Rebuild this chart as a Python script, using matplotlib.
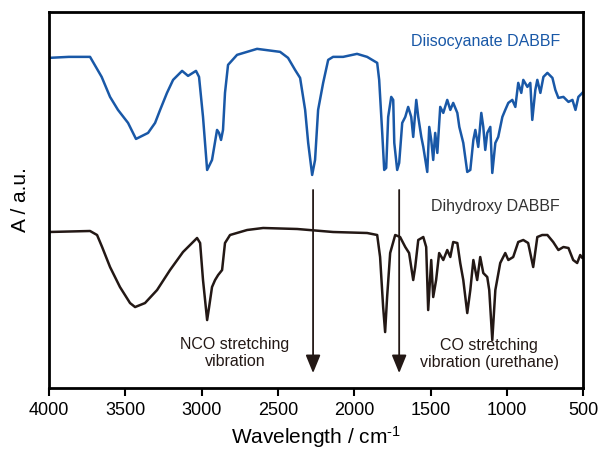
import matplotlib
matplotlib.use("Agg")
import matplotlib.pyplot as plt

plt.rcParams['font.family'] = ['Liberation Sans', 'DejaVu Sans']
plt.rcParams['mathtext.fontset'] = 'custom'
plt.rcParams['mathtext.rm'] = 'Liberation Sans'
plt.rcParams['mathtext.it'] = 'Liberation Sans'

# wavenumber (cm-1) and absorbance (a.u.)
wn_iso = [4000, 3870, 3731, 3655, 3600, 3548, 3482, 3430, 3351, 3305, 3272, 3227, 3187,
          3128, 3089, 3037, 3017, 2991, 2964, 2932, 2899, 2886, 2873, 2860, 2847, 2827,
          2768, 2637, 2486, 2434, 2388, 2355, 2322, 2302, 2276, 2257, 2237, 2204, 2171,
          2139, 2073, 1982, 1916, 1850, 1837, 1817, 1804, 1791, 1778, 1758, 1745, 1738,
          1719, 1706, 1686, 1666, 1647, 1627, 1614, 1594, 1581, 1561, 1548, 1522, 1509,
          1496, 1483, 1470, 1456, 1437, 1417, 1391, 1371, 1352, 1325, 1312, 1286, 1260,
          1240, 1220, 1207, 1188, 1168, 1155, 1142, 1129, 1109, 1096, 1076, 1057, 1030,
          1011, 991, 965, 945, 926, 906, 893, 866, 847, 834, 814, 801, 781, 761, 735,
          702, 683, 663, 630, 597, 571, 551, 532, 506, 500]
a_iso = [330, 331, 331, 311, 291, 278, 265, 249, 255, 265, 278, 295, 308,
         317, 312, 317, 311, 271, 218, 228, 258, 255, 248, 258, 295, 323,
         333, 339, 336, 330, 318, 310, 278, 245, 213, 228, 278, 305, 328,
         331, 331, 334, 331, 325, 308, 255, 218, 220, 271, 291, 288, 245,
         218, 225, 265, 271, 281, 271, 251, 288, 271, 251, 241, 216, 261,
         248, 228, 255, 235, 281, 275, 288, 278, 285, 275, 261, 245, 216,
         218, 248, 258, 241, 275, 261, 238, 255, 261, 215, 245, 251, 271,
         278, 285, 288, 281, 305, 295, 308, 301, 305, 268, 298, 308, 295, 311, 315,
         310, 298, 290, 291, 286, 288, 278, 291, 295, 296]

wn_oh = [4000, 3731, 3685, 3652, 3600, 3535, 3469, 3436, 3371, 3292, 3207, 3122, 3030,
         3010, 2991, 2964, 2951, 2932, 2912, 2892, 2866, 2847, 2814, 2702, 2597, 2374,
         2139, 1916, 1850, 1831, 1811, 1798, 1785, 1765, 1732, 1700, 1666, 1641, 1614,
         1601, 1581, 1548, 1529, 1516, 1496, 1483, 1464, 1444, 1417, 1391, 1371, 1352,
         1325, 1306, 1286, 1260, 1240, 1220, 1195, 1175, 1155, 1129, 1116, 1096, 1076,
         1044, 1011, 991, 959, 926, 893, 861, 828, 801, 769, 735, 697, 663, 630, 597,
         566, 540, 520, 506, 500]
a_oh = [156, 157, 153, 141, 121, 101, 85, 81, 85, 98, 118, 136, 150,
        145, 108, 68, 81, 101, 108, 113, 118, 145, 153, 158, 160, 159,
        156, 155, 153, 131, 81, 56, 91, 135, 153, 151, 141, 135, 108,
        121, 148, 151, 141, 78, 128, 91, 108, 135, 128, 138, 131, 146,
        145, 125, 108, 75, 98, 128, 108, 131, 115, 111, 98, 48, 98,
        125, 135, 128, 131, 146, 148, 145, 121, 151, 153, 153, 146, 138, 141, 140,
        128, 125, 133, 130, 131]

xticks = [4000, 3500, 3000, 2500, 2000, 1500, 1000, 500]
arrow_wn = [2270, 1706]

blue = '#1958a7'
black = '#231815'

fig = plt.figure(figsize=(6.01, 4.55), dpi=100)
ax = fig.add_axes([0.0815, 0.147, 0.889, 0.827])

ax.plot(wn_iso, a_iso, color=blue, lw=1.8)
ax.plot(wn_oh, a_oh, color=black, lw=1.8)

for x in arrow_wn:
    ax.annotate('', xy=(x, 15), xytext=(x, 198),
                arrowprops=dict(arrowstyle='-|>,head_length=1.1,head_width=0.45',
                                color=black, lw=1.3, shrinkA=0, shrinkB=0))

ax.text(1142, 346, 'Diisocyanate DABBF', color=blue, fontsize=11.5, ha='center', va='center')
ax.text(1077, 181, 'Dihydroxy DABBF', color='#333333', fontsize=11.5, ha='center', va='center')
ax.text(2781, 35, 'NCO stretching\nvibration', color=black, fontsize=11.5,
        ha='center', va='center', linespacing=1.1)
ax.text(1116, 34, 'CO stretching\nvibration (urethane)', color=black, fontsize=11.5,
        ha='center', va='center', linespacing=1.1)

ax.set_xlim(4000, 500)
ax.set_ylim(0, 376)
ax.set_xticks(xticks)
ax.set_xticklabels([str(t) for t in xticks])
ax.set_yticks([])
ax.tick_params(axis='x', direction='out', length=6, width=1.5, labelsize=13, pad=4)
for s in ax.spines.values():
    s.set_linewidth(2)
ax.set_xlabel('Wavelength / cm$^{\\text{-1}}$', fontsize=15, labelpad=4)
ax.set_ylabel('A / a.u.', fontsize=15, labelpad=14)

fig.savefig('out.png', dpi=100)
